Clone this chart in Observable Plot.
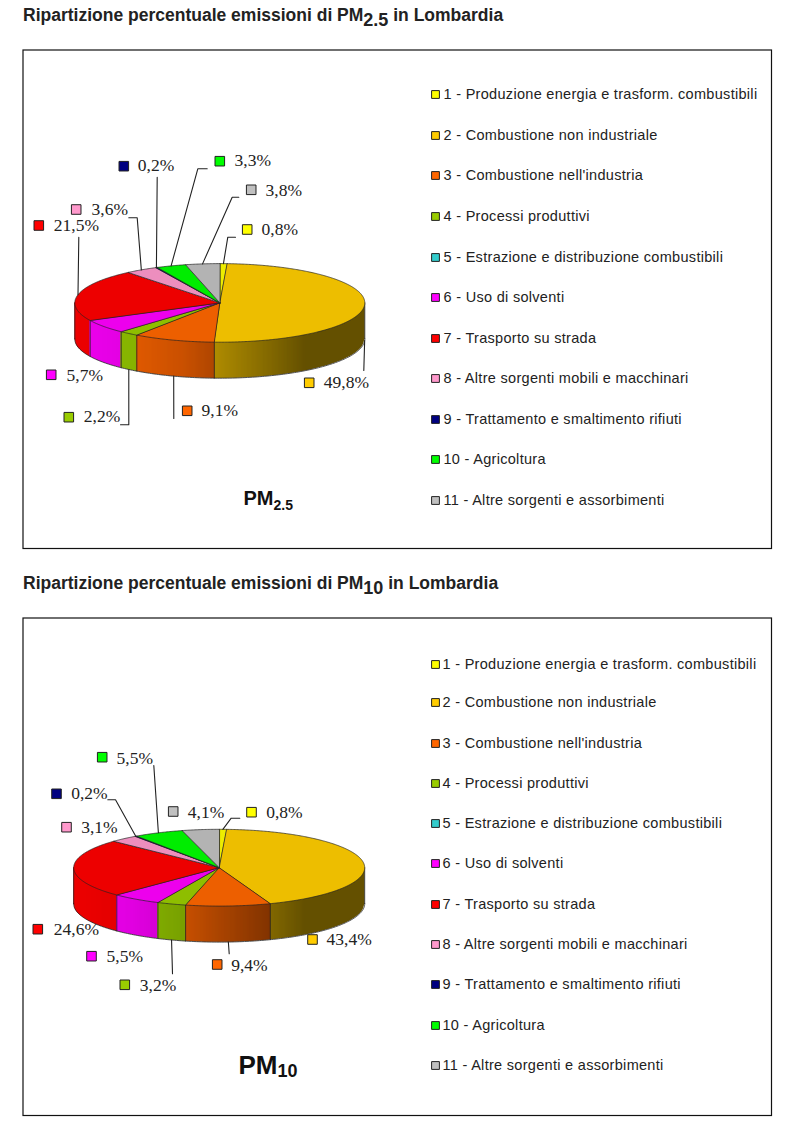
<!DOCTYPE html>
<html><head><meta charset="utf-8">
<script src="https://cdn.jsdelivr.net/npm/d3@7"></script>
<script src="https://cdn.jsdelivr.net/npm/@observablehq/plot@0.6"></script>
<style>
html,body{margin:0;padding:0;background:#fff;width:791px;height:1136px;overflow:hidden}
.t{position:absolute;left:23px;font:bold 17.5px "Liberation Sans",Arial,sans-serif;color:#222;white-space:nowrap;line-height:20px}
.t sub{font-size:18px;line-height:0;vertical-align:-5px}
.p{position:absolute;left:0}
svg{display:block;overflow:visible}
</style></head><body>
<div class="t" id="t1" style="top:5px">Ripartizione percentuale emissioni di PM<sub>2.5</sub> in Lombardia</div>
<div class="t" id="t2" style="top:573px">Ripartizione percentuale emissioni di PM<sub>10</sub> in Lombardia</div>
<div id="root"></div>
<script>
const categories = ["1 - Produzione energia e trasform. combustibili","2 - Combustione non industriale","3 - Combustione nell'industria","4 - Processi produttivi","5 - Estrazione e distribuzione combustibili","6 - Uso di solventi","7 - Trasporto su strada","8 - Altre sorgenti mobili e macchinari","9 - Trattamento e smaltimento rifiuti","10 - Agricoltura","11 - Altre sorgenti e assorbimenti"];
const legendColors = ["#ffff00","#ffcc00","#ff6600","#99cc00","#33cccc","#ff00ff","#ff0000","#ff99cc","#000080","#00ff00","#c0c0c0"];
const pm25Values = [0.8,49.8,9.1,2.2,0,5.7,21.5,3.6,0.2,3.3,3.8];
const pm10Values = [0.8,43.4,9.4,3.2,0,5.5,24.6,3.1,0.2,5.5,4.1];

// Layout (page coordinates), separate from the data
const layouts = [
 {ox:22,oy:49,W:749.5,H:499.5,cx:219.3,cy:302.4,rx:145,ry:39.3,depth:36,legX:435,legTextX:443,
  legY:[94,135,175,216,257,297,338,378,419,459,500],
  mark:{0:[246.7,229,261,230],1:[308.7,382.3,323.3,383],2:[186.7,410.3,201,411.7],3:[68.3,416.7,83.3,417],5:[50.7,374.3,66,376],6:[38.3,225,53.3,226],7:[75.7,209,91,210],8:[123.3,165.7,137.3,166.7],9:[219.3,160.7,234,161.7],10:[250.7,189.3,265,191]},
  lead:{0:[[227.3,236.7],[235,236.7]],1:[[363.3,370]],2:[[173.3,418]],3:[[128.3,424.3],[120,424.3]],6:[[78.3,236.7]],7:[[136.7,217.3],[128.3,217.3]],8:[[156.7,176.7]],9:[[197.3,168.3],[206.7,168.3]],10:[[231.7,196.7],[238.3,196.7]]},
  head:["PM","2.5"],headX:273,headY:498,subY:505,headSize:20,subSize:14},
 {ox:22,oy:617,W:749.5,H:498.5,cx:218.7,cy:867.2,rx:145.5,ry:38.4,depth:36,legX:435,legTextX:442,
  legY:[664,702,743,783,823,863,904,944,984,1025,1065],
  mark:{0:[251,811.7,265.7,813.3],1:[312,939,326,940],2:[216.7,964,230.7,966],3:[124.3,984.3,139.3,986.7],5:[91,955.7,106,957],6:[37.3,928.7,53.3,930],7:[66,826.7,80.7,828],8:[56,793.3,70.7,794.3],9:[101.7,756.7,116,759.3],10:[172.7,811,187.3,813.3]},
  lead:{0:[[230.7,817.7],[239.3,817.7]],2:[[228.7,953.3]],3:[[172,973.3]],8:[[115,799.3],[107.3,799.3]],9:[[153.3,765]]},
  head:["PM","10"],headX:277,headY:1065,subY:1071,headSize:26,subSize:18}
];
const shadeAt = d3.scaleLinear().domain([-1,-0.6,-0.25,0,0.35,0.6,1]).range([1,0.95,0.85,0.72,0.55,0.42,0.42]);
const scaleColor = (c,k)=>{const r=d3.rgb(c);return d3.rgb(r.r*k,r.g*k,r.b*k).formatHex();};
const LINE="#222";

function chart(values, L){
  const {cx,cy,rx,ry,depth}=L;
  const arcs=d3.pie().sort(null).value(d=>d)(values).map((a,i)=>({...a,i})).filter(a=>a.value>0);
  const at=(t,dy=0)=>[cx+rx*Math.sin(t),cy-ry*Math.cos(t)+dy];
  // Top faces
  const top=[];
  for(const a of arcs){
    const n=Math.max(2,Math.ceil((a.endAngle-a.startAngle)/0.01));
    const push=(p)=>top.push({id:a.i,x:p[0],y:p[1],fill:scaleColor(legendColors[a.i],0.93)});
    push([cx,cy]);
    for(let k=0;k<=n;k++)push(at(a.startAngle+(a.endAngle-a.startAngle)*k/n));
  }
  // Side wall as thin shaded strips
  const side=[];
  const yBottom=x=>{const u=Math.max(-1,Math.min(1,(x-cx)/rx));return cy+ry*Math.sqrt(1-u*u)+depth;};
  let id=0;
  for(let x=cx-rx;x<cx+rx;x+=1){
    const x2=Math.min(cx+rx,x+3), xm=Math.min(cx+rx,x+0.5), u=(xm-cx)/rx;
    const t=Math.PI-Math.asin(u);
    const a=arcs.find(a=>t>=a.startAngle&&t<a.endAngle)||arcs[arcs.length-1];
    const fill=scaleColor(legendColors[a.i],0.93*shadeAt(u));
    side.push({id,x,y1:cy,y2:yBottom(x),fill},{id,x:x2,y1:cy,y2:yBottom(x2),fill});
    id++;
  }
  // Outline of the wall
  const edges=[];
  let e=0;
  for(let k=0;k<=180;k++){const p=at(Math.PI/2+Math.PI*k/180,depth);edges.push({id:e,x:p[0],y:p[1]});}
  e++;
  const vertical=t=>{const a=at(t),b=at(t,depth);edges.push({id:e,x:a[0],y:a[1]},{id:e,x:b[0],y:b[1]});e++;};
  vertical(Math.PI/2);vertical(3*Math.PI/2);
  for(const a of arcs){if(a.endAngle>Math.PI/2&&a.endAngle<3*Math.PI/2)vertical(a.endAngle);}
  // Leaders start on the slice's mid-angle edge
  const leaders=[];
  for(const a of arcs){
    const el=L.lead[a.i]; if(!el)continue;
    const m=(a.startAngle+a.endAngle)/2;
    const s=at(m,Math.cos(m)<0?depth:0);
    leaders.push({id:a.i,x:s[0],y:s[1]});
    for(const p of el)leaders.push({id:a.i,x:p[0],y:p[1]});
  }
  // Labels
  const labels=arcs.filter(a=>L.mark[a.i]).map(a=>({i:a.i,text:a.value.toFixed(1).replace(".",",")+"%",mx:L.mark[a.i][0],my:L.mark[a.i][1],tx:L.mark[a.i][2],ty:L.mark[a.i][3],fill:legendColors[a.i]}));
  const legend=categories.map((c,i)=>({c,fill:legendColors[i],y:L.legY[i]}));
  const svg=Plot.plot({
    width:L.W,height:L.H,margin:0,
    x:{domain:[L.ox,L.ox+L.W],range:[0,L.W],axis:null},
    y:{domain:[L.oy,L.oy+L.H],range:[0,L.H],axis:null},
    color:{type:"identity"},
    style:{background:"#fff",overflow:"visible"},
    marks:[
      Plot.frame({stroke:"#111",strokeWidth:1.2,inset:0.5}),
      Plot.area(side,{x1:"x",y1:"y1",y2:"y2",z:"id",fill:"fill"}),
      Plot.line(edges,{x:"x",y:"y",z:"id",stroke:LINE,strokeWidth:0.8}),
      Plot.line(top,{x:"x",y:"y",z:"id",fill:"fill",stroke:LINE,strokeWidth:0.7,curve:"linear-closed"}),
      Plot.line(leaders,{x:"x",y:"y",z:"id",stroke:LINE,strokeWidth:1.1}),
      Plot.dot(labels,{x:"mx",y:"my",symbol:"square",r:5.4,fill:"fill",stroke:"#222",strokeWidth:1}),
      Plot.text(labels,{x:"tx",y:"ty",dy:-1.5,text:"text",textAnchor:"start",lineAnchor:"middle",fontFamily:"Liberation Serif",fontSize:17.5,fill:"#222"}),
      Plot.dot(legend,{x:L.legX,y:"y",symbol:"square",r:4.4,fill:"fill",stroke:"#222",strokeWidth:1}),
      Plot.text(legend,{x:L.legTextX,y:"y",text:"c",textAnchor:"start",lineAnchor:"middle",fontFamily:"Liberation Sans",fontSize:14.5,fill:"#222",style:{letterSpacing:"0.3px"}}),
      Plot.text([L.head[0]],{x:L.headX,y:L.headY,text:d=>d,textAnchor:"end",lineAnchor:"middle",fontFamily:"Liberation Sans",fontWeight:"bold",fontSize:L.headSize,fill:"#111"}),
      Plot.text([L.head[1]],{x:L.headX,y:L.subY,text:d=>d,textAnchor:"start",lineAnchor:"middle",fontFamily:"Liberation Sans",fontWeight:"bold",fontSize:L.subSize,fill:"#111"})
    ]
  });
  svg.querySelectorAll("text").forEach(t=>{ if(t.getAttribute("font-size")==="14.5"||t.closest('[font-size="14.5"]')) t.style.letterSpacing="0.3px"; });
  const w=document.createElement("div");w.className="p";
  w.style.left=L.ox+"px";w.style.top=L.oy+"px";
  w.appendChild(svg);
  return w;
}
const root=document.getElementById("root");
root.appendChild(chart(pm25Values,layouts[0]));
root.appendChild(chart(pm10Values,layouts[1]));
</script>
</body></html>
